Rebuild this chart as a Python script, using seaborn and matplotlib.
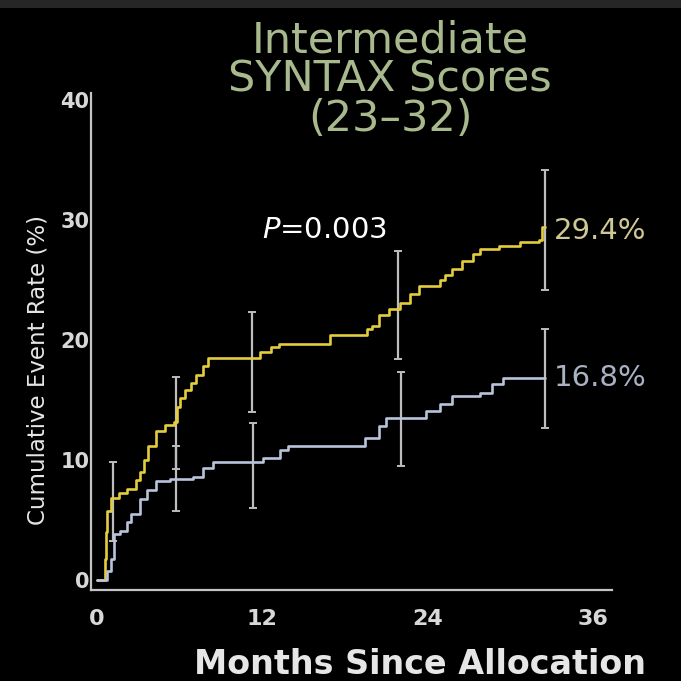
import matplotlib
matplotlib.use("Agg")
import matplotlib.pyplot as plt
from matplotlib.patches import Rectangle
import seaborn as sns
import pandas as pd

# Kaplan-Meier style cumulative event curves (months, % with events)
pci_months = [0.0, 0.55, 0.62, 0.75, 1.0, 1.6, 2.2, 2.8, 3.1, 3.4, 3.7, 4.3, 4.9,
              5.6, 5.8, 6.0, 6.4, 6.8, 7.2, 7.7, 8.05, 11.8, 12.6, 13.2, 16.9,
              19.6, 20.0, 20.5, 21.2, 22.0, 22.7, 23.4, 24.9, 25.3, 25.8, 26.5,
              27.3, 27.8, 29.2, 30.7, 32.1, 32.35, 32.5]
pci_rate = [0.0, 1.7, 4.0, 5.7, 6.8, 7.2, 7.6, 8.3, 9.0, 10.0, 11.2, 12.4, 12.9,
            13.2, 14.4, 15.2, 15.8, 16.4, 17.1, 17.8, 18.5, 19.0, 19.4, 19.7, 20.4,
            20.9, 21.2, 22.1, 22.6, 23.1, 23.8, 24.5, 25.0, 25.4, 25.9, 26.6,
            27.2, 27.6, 27.8, 28.2, 28.3, 29.4, 29.4]

cabg_months = [0.0, 0.7, 1.0, 1.2, 1.7, 2.2, 2.5, 3.1, 3.6, 4.3, 5.3, 7.0, 7.7,
               8.4, 12.05, 13.3, 13.9, 19.45, 20.5, 21.0, 23.9, 24.9, 25.8, 27.8,
               28.7, 29.5, 32.5]
cabg_rate = [0.0, 0.7, 1.7, 3.8, 4.1, 4.8, 5.5, 6.7, 7.5, 8.2, 8.4, 8.6, 9.3,
             9.8, 10.2, 10.8, 11.2, 11.8, 12.8, 13.5, 14.1, 14.7, 15.3, 15.6,
             16.3, 16.8, 16.8]

# 95% confidence intervals at selected follow-up times
pci_ci_months = [1.16, 5.7, 11.25, 21.85, 32.5]
pci_ci_center = [6.8, 13.2, 18.5, 23.1, 29.4]
pci_ci_low = [3.2, 9.2, 14.0, 18.4, 24.2]
pci_ci_high = [9.8, 16.9, 22.3, 27.4, 34.2]

cabg_ci_months = [5.75, 11.3, 22.1, 32.55]
cabg_ci_center = [8.4, 9.8, 13.5, 16.8]
cabg_ci_low = [5.75, 6.0, 9.5, 12.65]
cabg_ci_high = [11.2, 13.1, 17.3, 20.9]

x_ticks = [0, 12, 24, 36]
y_ticks = [0, 10, 20, 30, 40]
end_labels = ["29.4%", "16.8%"]

PCI_COLOR = "#e3cd3c"
CABG_COLOR = "#b9c3da"
BAR_COLOR = "#bdbdbd"

sns.set_style("dark", {"axes.facecolor": "black", "figure.facecolor": "black"})
plt.rcParams["font.family"] = ["DejaVu Sans"]

fig = plt.figure(figsize=(6.81, 6.81), dpi=100)
fig.patch.set_facecolor("black")
# thin dark-grey frame along the top edge of the slide
fig.patches.append(Rectangle((0, 1 - 8 / 681), 1, 8 / 681, transform=fig.transFigure,
                             facecolor="#262626", edgecolor="none", zorder=0))

ax = fig.add_axes([91 / 681, 91 / 681, 521 / 681, 497 / 681])
ax.set_facecolor("black")

df = pd.concat([
    pd.DataFrame({"month": pci_months, "rate": pci_rate, "arm": "PCI"}),
    pd.DataFrame({"month": cabg_months, "rate": cabg_rate, "arm": "CABG"}),
], ignore_index=True)

sns.lineplot(data=df, x="month", y="rate", hue="arm",
             palette={"PCI": PCI_COLOR, "CABG": CABG_COLOR},
             drawstyle="steps-post", estimator=None, sort=False,
             linewidth=1.9, legend=False, ax=ax)

for xs, c, lo, hi in [(pci_ci_months, pci_ci_center, pci_ci_low, pci_ci_high),
                      (cabg_ci_months, cabg_ci_center, cabg_ci_low, cabg_ci_high)]:
    err = [[ci - l for ci, l in zip(c, lo)], [h - ci for ci, h in zip(c, hi)]]
    ax.errorbar(xs, c, yerr=err, fmt="none", ecolor=BAR_COLOR,
                elinewidth=1.6, capsize=3, capthick=1.4, zorder=1)

ax.set_xlim(-0.44, 37.4)
ax.set_ylim(-0.85, 40.6)
ax.set_xticks(x_ticks)
ax.set_yticks(y_ticks)
ax.set_xticklabels([str(t) for t in x_ticks], fontsize=16, fontweight="bold",
                   color="#d8d8d8")
ax.set_yticklabels([str(t) for t in y_ticks], fontsize=15, fontweight="bold",
                   color="#d8d8d8")
ax.tick_params(axis="x", length=0, pad=14)
ax.tick_params(axis="y", length=0, pad=1)
ax.set_xlabel("")
ax.set_ylabel("")
ax.grid(False)
for side in ["top", "right"]:
    ax.spines[side].set_visible(False)
for side in ["left", "bottom"]:
    ax.spines[side].set_visible(True)
    ax.spines[side].set_color("#c4c4c4")
    ax.spines[side].set_linewidth(1.6)

# end-of-follow-up rates
ax.text(33.2, pci_rate[-1] - 0.3, end_labels[0], color="#cfc894",
        fontsize=21, va="center", ha="left", clip_on=False)
ax.text(33.2, cabg_rate[-1], end_labels[1], color="#a9b1c2",
        fontsize=21, va="center", ha="left", clip_on=False)

ax.text(16.5, 29.2, "$\\mathit{P}$=0.003", color="white", fontsize=21,
        va="center", ha="center")

fig.text(390 / 681, 1 - 80 / 681, "Intermediate\nSYNTAX Scores\n(23\u201332)",
         color="#a9b98e", fontsize=31, ha="center", va="center",
         linespacing=0.92)
fig.text(420 / 681, 1 - 664 / 681, "Months Since Allocation", color="#e6e6e6",
         fontsize=24, fontweight="bold", ha="center", va="center")
fig.text(38 / 681, 1 - 370 / 681, "Cumulative Event Rate (%)", color="#e6e6e6",
         fontsize=16.5, rotation=90, ha="center", va="center")

fig.savefig("out.png", dpi=100, facecolor="black")
